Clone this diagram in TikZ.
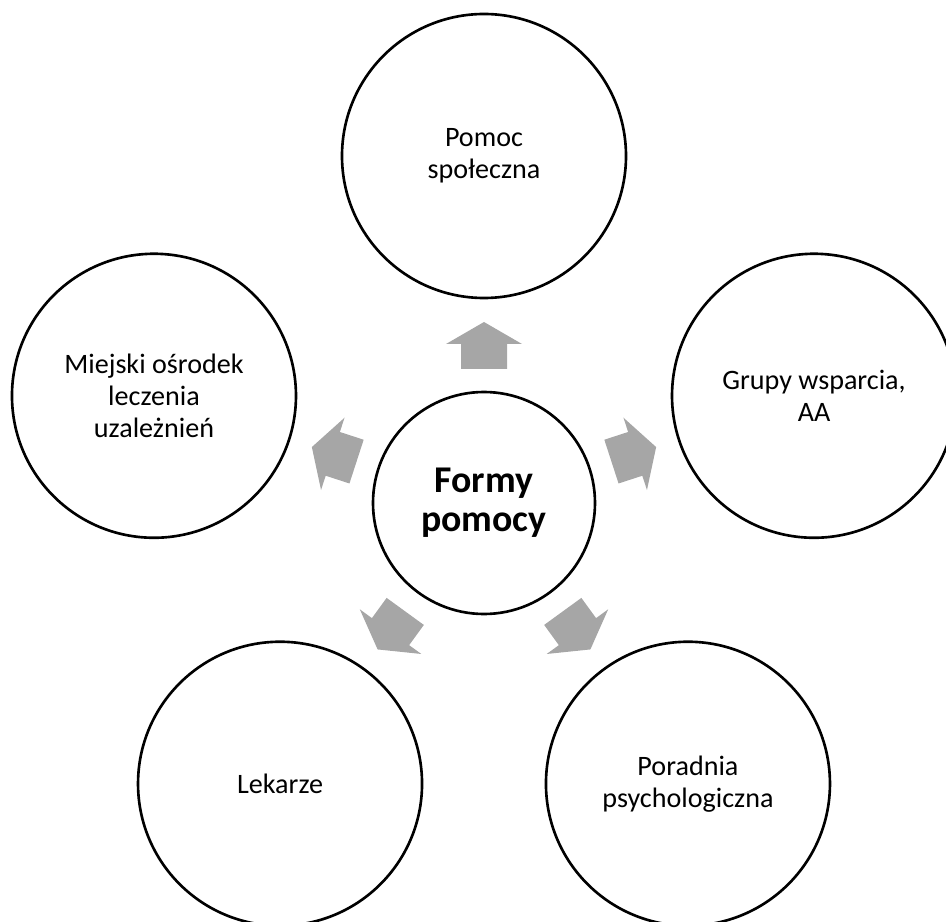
\documentclass[tikz,border=0pt]{standalone}
\usepackage{fontspec}
\setmainfont{Carlito}
\usepackage{tikz}
\usetikzlibrary{arrows}
\usetikzlibrary{shapes}

\definecolor{arrowgray}{RGB}{166,166,166}

\tikzset{
  spoke/.style={circle,draw,line width=1.5pt,minimum size=5.68cm,align=center,
    font=\fontsize{16}{18.3}\selectfont},
  hub/.style={circle,draw,line width=1.5pt,minimum size=4.44cm,align=center,
    font=\fontsize{21.5}{22.2}\selectfont\bfseries},
  blockarrow/.style={fill=arrowgray}
}

\begin{document}
\begin{tikzpicture}
  \clip (-9.68,-8.36) rectangle (9.24,10.06);

  \node[hub] at (0,0) (formy){Formy\\pomocy};

  \node[spoke] at (90:6.94) (pomoc){Pomoc\\społeczna};
  \node[spoke] at (18:6.94) (grupy){Grupy wsparcia,\\AA};
  \node[spoke] at (306:6.94) (poradnia){Poradnia\\psychologiczna};
  \node[spoke] at (234:6.94) (lekarze){Lekarze};
  \node[spoke] at (162:6.94) (miejski){Miejski ośrodek\\leczenia\\uzależnień};

  \foreach \a in {90,18,306,234,162}
    \fill[blockarrow,rotate=\a] (2.68,-0.46) -- (3.18,-0.46) -- (3.18,-0.76) -- (3.62,0)
      -- (3.18,0.76) -- (3.18,0.46) -- (2.68,0.46) -- cycle;
\end{tikzpicture}
\end{document}
